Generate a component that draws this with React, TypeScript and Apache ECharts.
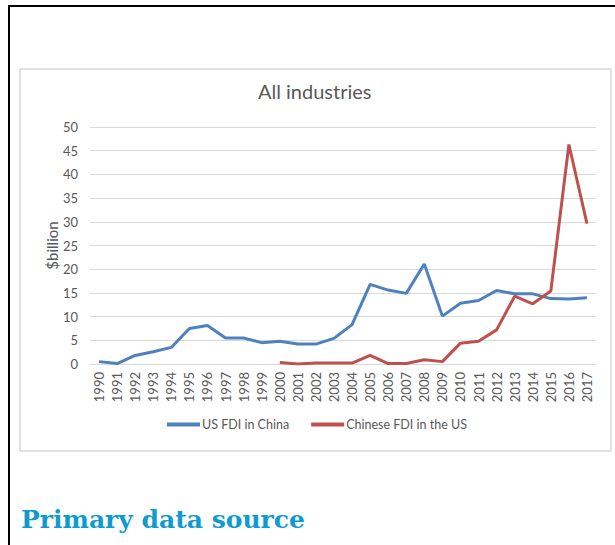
import React, { useEffect, useRef } from "react";
import * as echarts from "echarts";

const years = [
  "1990", "1991", "1992", "1993", "1994", "1995", "1996", "1997", "1998", "1999",
  "2000", "2001", "2002", "2003", "2004", "2005", "2006", "2007", "2008", "2009",
  "2010", "2011", "2012", "2013", "2014", "2015", "2016", "2017",
];

const usFdiInChina = [
  0.5, 0.1, 1.8, 2.6, 3.5, 7.5, 8.1, 5.5, 5.5, 4.5,
  4.8, 4.2, 4.2, 5.4, 8.3, 16.8, 15.6, 14.9, 21.1, 10.1,
  12.8, 13.4, 15.5, 14.8, 14.8, 13.8, 13.7, 14.0,
];

const chineseFdiInUs = [
  null, null, null, null, null, null, null, null, null, null,
  0.3, 0.0, 0.2, 0.2, 0.2, 1.8, 0.1, 0.1, 0.9, 0.5,
  4.4, 4.8, 7.2, 14.3, 12.7, 15.4, 46.3, 29.6,
];

const seriesNames = ["US FDI in China", "Chinese FDI in the US"];
const chartTitle = "All industries";
const yAxisName = "$billion";
const heading = "Primary data source";

const FONT = "Lato";
const GREY = "#595959";

export default function App() {
  const ref = useRef<HTMLDivElement>(null);

  useEffect(() => {
    if (!ref.current) return;
    const chart = echarts.init(ref.current, undefined, { renderer: "svg" });
    chart.setOption({
      animation: false,
      backgroundColor: "#ffffff",
      title: {
        text: chartTitle,
        left: 258,
        top: 81,
        padding: 0,
        textStyle: { fontFamily: FONT, fontSize: 20, fontWeight: "normal", color: GREY },
      },
      legend: {
        data: seriesNames,
        left: 167,
        top: 418,
        padding: 0,
        icon: "rect",
        itemWidth: 33,
        itemHeight: 4,
        itemGap: 22,
        textStyle: { fontFamily: FONT, fontSize: 12.5, color: GREY, padding: [0, 0, 0, -3] },
      },
      grid: { left: 90, right: 19, top: 127, bottom: 181, containLabel: false },
      xAxis: {
        type: "category",
        data: years,
        boundaryGap: true,
        axisLine: { lineStyle: { color: "#d9d9d9", width: 1 } },
        axisTick: { show: false },
        axisLabel: { rotate: 90, margin: 8, fontFamily: FONT, fontSize: 13, color: GREY, interval: 0 },
      },
      yAxis: {
        type: "value",
        min: 0,
        max: 50,
        interval: 5,
        name: yAxisName,
        nameLocation: "middle",
        nameGap: 31,
        nameMoveOverlap: false,
        nameTextStyle: { fontFamily: FONT, fontSize: 15, color: GREY },
        axisLine: { show: false },
        axisTick: { show: false },
        axisLabel: { margin: 12, fontFamily: FONT, fontSize: 13, color: GREY },
        splitLine: { lineStyle: { color: "#d9d9d9", width: 1 } },
      },
      series: [
        {
          name: seriesNames[0],
          type: "line",
          data: usFdiInChina,
          symbol: "none",
          lineStyle: { width: 3, color: "#4f81bd" },
          itemStyle: { color: "#4f81bd" },
        },
        {
          name: seriesNames[1],
          type: "line",
          data: chineseFdiInUs,
          symbol: "none",
          lineStyle: { width: 3, color: "#c0504d" },
          itemStyle: { color: "#c0504d" },
        },
      ],
      graphic: [
        { type: "rect", silent: true, z: -1, shape: { x: 20, y: 69, width: 591, height: 382 }, style: { fill: "none", stroke: "#d9d9d9", lineWidth: 1.5 } },
        { type: "rect", silent: true, shape: { x: 8, y: 5, width: 607, height: 2 }, style: { fill: "#000000" } },
        { type: "rect", silent: true, shape: { x: 8, y: 5, width: 2, height: 540 }, style: { fill: "#000000" } },
        {
          type: "text",
          silent: true,
          x: 21,
          y: 519,
          style: {
            text: heading,
            font: 'bold 25px "DejaVu Serif"',
            fill: "#0e9bd0",
            verticalAlign: "middle",
          },
        },
      ],
    });
    return () => chart.dispose();
  }, []);

  return (
    <div
      ref={ref}
      style={{ position: "absolute", left: 0, top: 0, width: 615, height: 545 }}
    />
  );
}
